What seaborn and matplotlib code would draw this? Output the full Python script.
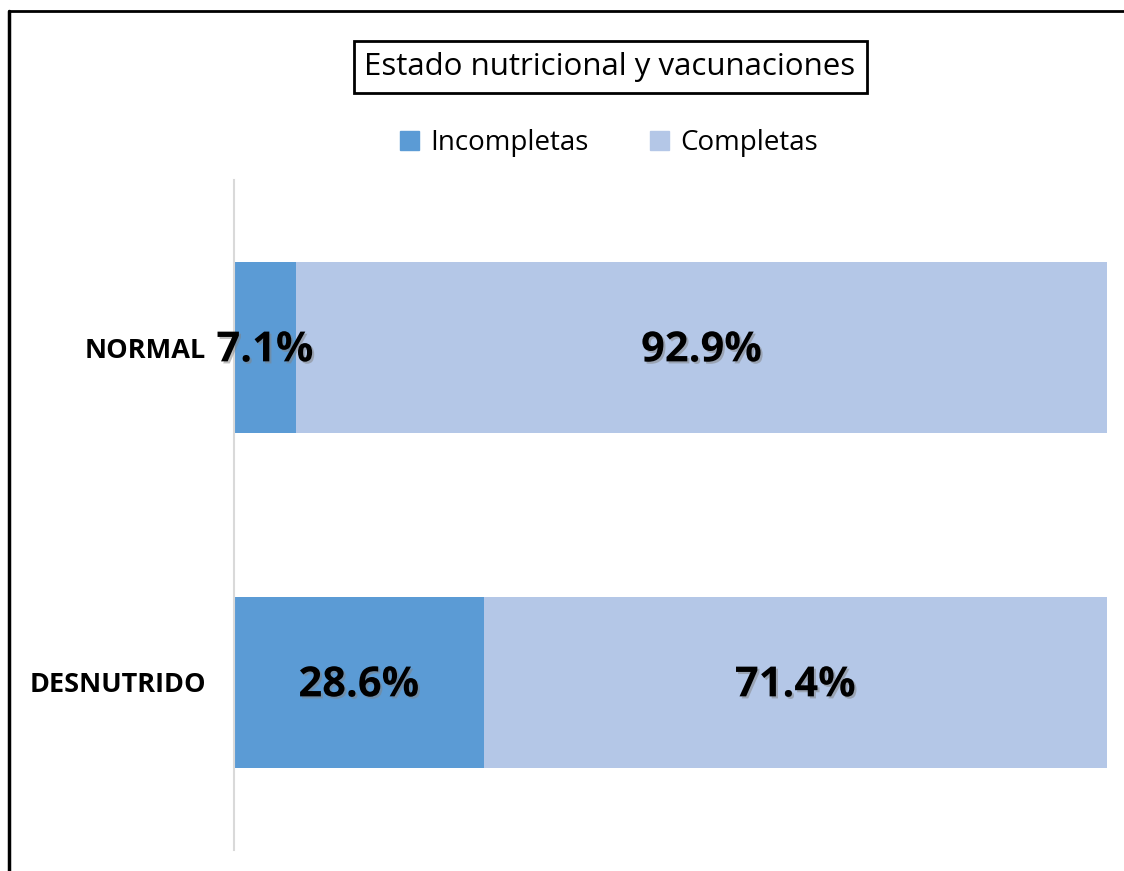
import matplotlib
matplotlib.use("Agg")
import matplotlib.pyplot as plt
import matplotlib.patheffects as pe
from matplotlib.lines import Line2D
from matplotlib.patches import Patch
import pandas as pd
import seaborn as sns

# data
categories = ["NORMAL", "DESNUTRIDO"]
incompletas = [7.1, 28.6]
completas = [92.9, 71.4]

c_inc = "#5B9BD5"
c_comp = "#B4C7E7"

sns.set_theme(style="white")
plt.rcParams["font.family"] = ["Open Sans", "DejaVu Sans"]
plt.rcParams["text.color"] = "black"

df = pd.DataFrame({"estado": categories, "inc": incompletas, "comp": completas})
df["total"] = df["inc"] + df["comp"]

fig = plt.figure(figsize=(11.24, 8.71), dpi=100)
ax = fig.add_axes([234 / 1124, 1 - 850 / 871, (1107 - 234) / 1124, (850 - 180) / 871])

# stacked bars: full total in light colour, incomplete share drawn over it
sns.barplot(data=df, y="estado", x="total", order=categories, color=c_comp,
            width=0.51, saturation=1, orient="h", linewidth=0, ax=ax)
sns.barplot(data=df, y="estado", x="inc", order=categories, color=c_inc,
            width=0.51, saturation=1, orient="h", linewidth=0, ax=ax)

ax.set_xlim(0, 100)
ax.set_ylim(1.5, -0.5)
ax.set_xlabel("")
ax.set_ylabel("")
ax.set_xticks([])
for s in ["top", "right", "bottom"]:
    ax.spines[s].set_visible(False)
ax.spines["left"].set_color("#D9D9D9")
ax.spines["left"].set_linewidth(1.5)
ax.tick_params(axis="y", length=0, pad=20, labelcolor="black")
for t in ax.get_yticklabels():
    t.set_fontweight("bold")
    t.set_fontsize(19.5)

shadow = [pe.withSimplePatchShadow(offset=(1.5, -1.5), shadow_rgbFace="#808080", alpha=0.5)]
for i, (a, b) in enumerate(zip(incompletas, completas)):
    ax.text(a / 2, i + 0.01, f"{a:.1f}%", ha="center", va="center", fontsize=30,
            fontweight="bold", color="black", path_effects=shadow)
    ax.text(a + b / 2, i + 0.01, f"{b:.1f}%", ha="center", va="center", fontsize=30,
            fontweight="bold", color="black", path_effects=shadow)

# title in a box
fig.text(610 / 1124, 1 - 67 / 871, "Estado nutricional y vacunaciones", ha="center", va="center",
         fontsize=22.5, color="black",
         bbox=dict(boxstyle="square,pad=0.35", facecolor="white", edgecolor="black", linewidth=2))

handles = [Patch(color=c_inc, label="Incompletas"), Patch(color=c_comp, label="Completas")]
fig.legend(handles=handles, loc="center", bbox_to_anchor=(609 / 1124, 1 - 143 / 871), ncol=2,
           frameon=False, fontsize=20, handlelength=0.7, handleheight=0.7,
           handletextpad=0.4, columnspacing=2.2, labelcolor="black")

# outer frame lines (left and top)
fig.add_artist(Line2D([9 / 1124, 9 / 1124], [0, 1 - 11 / 871], color="black", linewidth=2.5,
                      transform=fig.transFigure))
fig.add_artist(Line2D([9 / 1124, 1], [1 - 11 / 871, 1 - 11 / 871], color="black", linewidth=2,
                      transform=fig.transFigure))

fig.savefig("out.png", dpi=100)
